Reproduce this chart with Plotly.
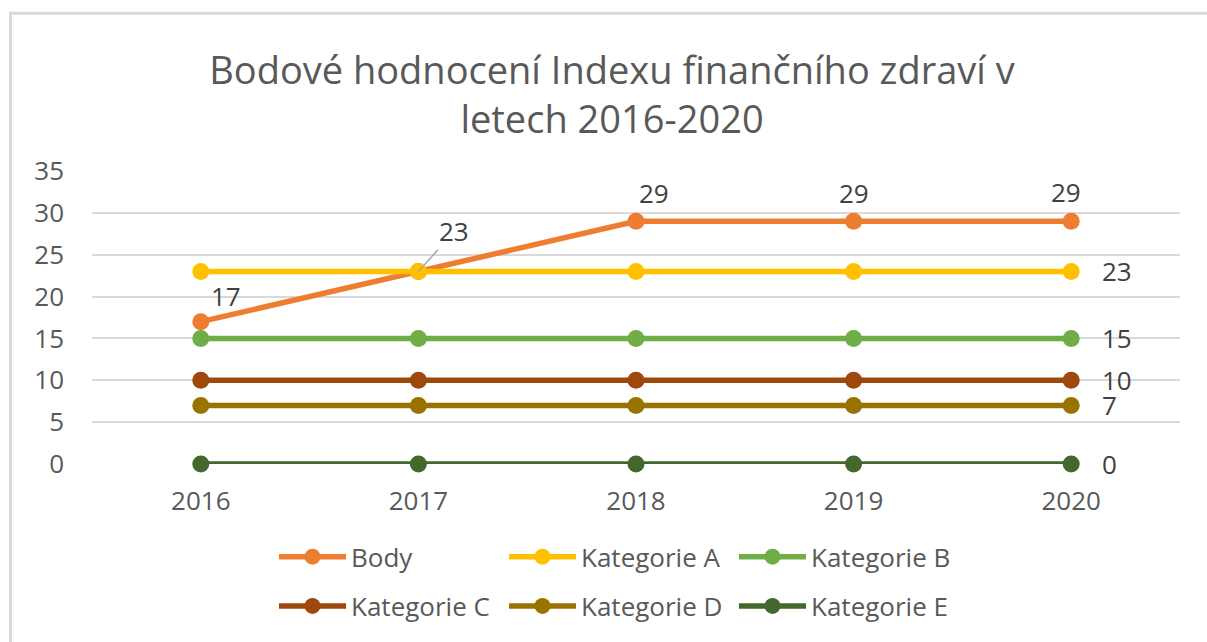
import plotly.graph_objects as go

years = ["2016", "2017", "2018", "2019", "2020"]
series_names = ["Body", "Kategorie A", "Kategorie B", "Kategorie C", "Kategorie D", "Kategorie E"]
body = [17, 23, 29, 29, 29]
kat_a = [23, 23, 23, 23, 23]
kat_b = [15, 15, 15, 15, 15]
kat_c = [10, 10, 10, 10, 10]
kat_d = [7, 7, 7, 7, 7]
kat_e = [0, 0, 0, 0, 0]
y_ticks = [0, 5, 10, 15, 20, 25, 30, 35]
title_text = "Bodové hodnocení Indexu finančního zdraví v<br>letech 2016-2020"

values = [body, kat_a, kat_b, kat_c, kat_d, kat_e]
colors = ["#ED7D31", "#FFC000", "#70AD47", "#9E480E", "#997300", "#43682B"]

FONT = "Open Sans"
TXT = "#595959"
LBL = "#404040"
FS = 26

fig = go.Figure()
for k, (name, vals, col) in enumerate(zip(series_names, values, colors)):
    fig.add_trace(go.Scatter(
        x=years, y=vals, name=name, mode="lines+markers",
        line=dict(color=col, width=5.5),
        marker=dict(color=col, size=17),
        cliponaxis=False,
        legend="legend" if k < 3 else "legend2",
    ))

L, R, T, B = 92, 27, 171, 174
pw = 1207 - L - R
ph = 642 - T - B
def px(xp):
    return (xp - L) / pw
def py(yp):
    return (642 - B - yp) / ph

annotations = []
# Body labels (placement styling per point)
body_shifts = [(25, 26), None, (18, 28), (0, 28), (-5, 29)]
for i, v in enumerate(body):
    if body_shifts[i] is None:
        annotations.append(dict(
            x=i, y=v, xref="x", yref="y", text=str(v), showarrow=True,
            arrowhead=0, arrowwidth=1.5, arrowcolor="#A6A6A6",
            ax=36, ay=-40, xanchor="center", yanchor="middle",
            font=dict(family=FONT, size=FS, color=LBL),
        ))
    else:
        dx, dy = body_shifts[i]
        annotations.append(dict(
            x=i, y=v, xref="x", yref="y", text=str(v), showarrow=False,
            xanchor="center", yanchor="middle", xshift=dx, yshift=dy,
            font=dict(family=FONT, size=FS, color=LBL),
        ))
# Right-side labels for categories
last = len(years) - 1
for vals in values[1:]:
    annotations.append(dict(
        x=last, y=vals[-1], xref="x", yref="y", text=str(vals[-1]),
        showarrow=False, xanchor="left", yanchor="middle", xshift=29,
        font=dict(family=FONT, size=FS, color=LBL),
    ))

leg_common = dict(orientation="h", xanchor="left", yanchor="middle",
                  font=dict(family=FONT, size=FS, color=TXT),
                  entrywidth=148, entrywidthmode="pixels",
                  itemwidth=67, bgcolor="rgba(0,0,0,0)")

fig.update_layout(
    width=1207, height=642,
    margin=dict(l=L, r=R, t=T, b=B, pad=0),
    paper_bgcolor="white", plot_bgcolor="white",
    font=dict(family=FONT, color=TXT, size=FS),
    title=dict(text=title_text, x=612 / 1207, xanchor="center",
               y=1 - 83.5 / 642, yanchor="middle",
               font=dict(family=FONT, size=38, color=TXT)),
    showlegend=True,
    legend=dict(x=px(274), y=py(562), **leg_common),
    legend2=dict(x=px(274), y=py(612), **leg_common),
    xaxis=dict(type="category", showgrid=False, showline=False, zeroline=False, ticks="",
               tickfont=dict(family=FONT, size=FS, color=TXT),
               range=[-0.5, 4.5], ticklabelstandoff=19),
    yaxis=dict(range=[0, 35], tickvals=y_ticks, showgrid=True, gridcolor="#D9D9D9",
               gridwidth=1.5, zeroline=False, showline=False, ticks="",
               tickfont=dict(family=FONT, size=FS, color=TXT), ticklabelstandoff=27),
    annotations=annotations,
    shapes=[dict(type="rect", xref="paper", yref="paper",
                 x0=px(10.5), x1=px(1230), y0=py(680), y1=py(11),
                 line=dict(color="#D9D9D9", width=3), fillcolor="rgba(0,0,0,0)", layer="below")],
)

fig.write_html("out.html", config={"displayModeBar": False},
               post_script="document.body.style.margin='0';")
